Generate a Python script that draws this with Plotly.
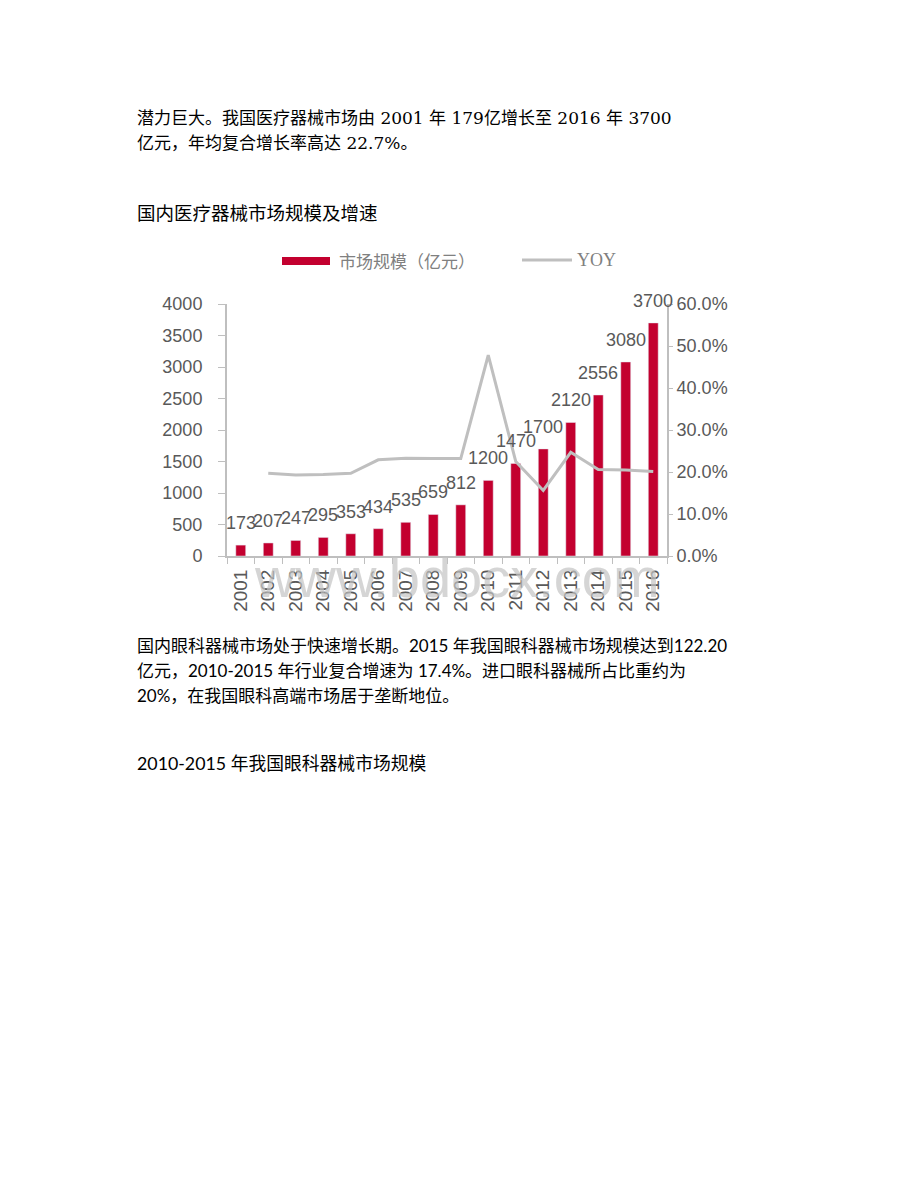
import plotly.graph_objects as go

# ---- data ----
years = ["2001", "2002", "2003", "2004", "2005", "2006", "2007", "2008",
         "2009", "2010", "2011", "2012", "2013", "2014", "2015", "2016"]
market_size = [173, 207, 247, 295, 353, 434, 535, 659, 812, 1200, 1470, 1700,
               2120, 2556, 3080, 3700]
yoy_years = years[1:]
yoy = [0.197, 0.193, 0.194, 0.197, 0.229, 0.233, 0.232, 0.232, 0.478, 0.225,
       0.156, 0.247, 0.206, 0.205, 0.201]
left_ticks = [0, 500, 1000, 1500, 2000, 2500, 3000, 3500, 4000]
right_ticks = [0.0, 0.1, 0.2, 0.3, 0.4, 0.5, 0.6]

W, H = 920, 1191
def px(x, y):
    return x / W, 1 - y / H

RED = "#c3002f"
GREY_LINE = "#bfbfbf"
TXT = "#595959"

fig = go.Figure()
fig.add_trace(go.Bar(x=years, y=market_size, marker_color=RED, width=0.36,
                     name="市场规模（亿元）", yaxis="y", hoverinfo="skip"))
fig.add_trace(go.Scatter(x=yoy_years, y=yoy, mode="lines", name="YOY",
                         line=dict(color=GREY_LINE, width=3), yaxis="y2",
                         hoverinfo="skip"))

annotations = []
def text(x, y, s, size=17, family="DejaVu Serif, Noto Sans CJK SC",
         color="#000000", anchor="left"):
    ax, ay = px(x, y)
    annotations.append(dict(x=ax, y=ay, xref="paper", yref="paper", text=s,
                            showarrow=False, xanchor=anchor, yanchor="middle",
                            font=dict(family=family, size=size, color=color)))

# watermark
text(457, 577, "www.bdocx.com", size=56, family="Liberation Sans, Arial",
     color="rgba(195,195,195,0.7)", anchor="center")

# data labels (category index positions)
for i, v in enumerate(market_size):
    annotations.append(dict(x=i, y=v, xref="x", yref="y", text=str(v),
                            showarrow=False, yanchor="bottom", yshift=10,
                            font=dict(family="Liberation Sans, Arial", size=18, color=TXT)))

BODY2 = "Lato, Noto Sans CJK SC"

text(135, 118, "潜力巨大。我国医疗器械市场由 2001 年 179亿增长至 2016 年 3700")
text(135, 143, "亿元，年均复合增长率高达 22.7%。")
text(135, 213, "国内医疗器械市场规模及增速", size=18.5, family=BODY2)
text(135, 645, "国内眼科器械市场处于快速增长期。2015 年我国眼科器械市场规模达到122.20", family=BODY2)
text(135, 670, "亿元，2010-2015 年行业复合增速为 17.4%。进口眼科器械所占比重约为", family=BODY2)
text(135, 695, "20%，在我国眼科高端市场居于垄断地位。", family=BODY2)
text(135, 763, "2010-2015 年我国眼科器械市场规模", size=17.8, family=BODY2)

# legend (manual)
text(337, 260, "市场规模（亿元）", size=17, family="Noto Sans CJK SC", color="#808080")
text(575, 260, "YOY", size=18, family="Liberation Serif", color="#808080")

x0, y0 = px(282, 257)
x1, y1 = px(330, 265)
lx0, ly = px(522, 260)
lx1, _ = px(572, 260)
shapes = [
    dict(type="rect", xref="paper", yref="paper", x0=x0, x1=x1, y0=y1, y1=y0,
         fillcolor=RED, line=dict(width=0)),
    dict(type="line", xref="paper", yref="paper", x0=lx0, x1=lx1, y0=ly, y1=ly,
         line=dict(color=GREY_LINE, width=3)),
]

dx0, _ = px(227, 0)
dx1, _ = px(667, 0)
_, dy0 = px(0, 556)
_, dy1 = px(0, 304)

axis_font = dict(family="Liberation Sans, Arial", size=18, color=TXT)
fig.update_layout(
    width=W, height=H, autosize=False,
    margin=dict(l=0, r=0, t=0, b=0),
    paper_bgcolor="white", plot_bgcolor="white",
    showlegend=False,
    xaxis=dict(domain=[dx0, dx1], type="category", range=[-0.5, len(years) - 0.5],
               tickangle=-90,
               tickfont=dict(family="Liberation Sans, Arial", size=19, color=TXT),
               showline=True, linecolor=GREY_LINE, linewidth=2,
               ticks="outside", tickson="boundaries", ticklen=6,
               tickcolor=GREY_LINE, showgrid=False, automargin=False,
               ticklabelstandoff=4, fixedrange=True),
    yaxis=dict(domain=[dy0, dy1], range=[0, 4000], tickvals=left_ticks,
               tickfont=axis_font, showline=True, linecolor=GREY_LINE,
               linewidth=2, ticks="outside", ticklen=7, tickcolor=GREY_LINE,
               showgrid=False, zeroline=False, automargin=False,
               ticklabelstandoff=12),
    yaxis2=dict(overlaying="y", side="right", anchor="x", range=[0, 0.6],
                tickvals=right_ticks, tickformat=".1%", tickfont=axis_font,
                showline=True, linecolor=GREY_LINE, linewidth=2,
                ticks="outside", ticklen=4, tickcolor=GREY_LINE,
                showgrid=False, zeroline=False, automargin=False),
    annotations=annotations, shapes=shapes,
)

fig.write_html("out.html")
